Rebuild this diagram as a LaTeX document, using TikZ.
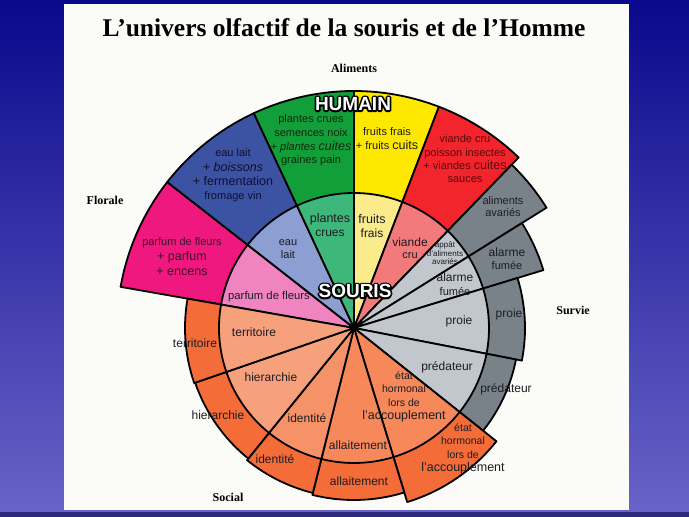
\documentclass[tikz,border=0pt]{standalone}
\usepackage{fontspec}
\setmainfont{Liberation Serif}
\setsansfont{Liberation Sans}
\usetikzlibrary{calc}
\definecolor{bgtop}{RGB}{10,8,140}
\definecolor{bgbot}{RGB}{105,100,200}
\definecolor{bgstrip}{RGB}{45,42,125}
\definecolor{slide}{RGB}{251,251,248}
\definecolor{magentaD}{RGB}{238,24,126}
\definecolor{pinkL}{RGB}{240,132,192}
\definecolor{blueD}{RGB}{60,82,163}
\definecolor{blueL}{RGB}{140,158,210}
\definecolor{greenD}{RGB}{18,158,56}
\definecolor{greenL}{RGB}{62,184,122}
\definecolor{yellowD}{RGB}{255,232,0}
\definecolor{yellowL}{RGB}{251,235,138}
\definecolor{redD}{RGB}{242,36,44}
\definecolor{redL}{RGB}{242,122,122}
\definecolor{greyD}{RGB}{122,130,137}
\definecolor{greyL}{RGB}{194,199,205}
\definecolor{orangeD}{RGB}{244,108,56}
\definecolor{orangeL}{RGB}{246,136,90}
\definecolor{orangeM}{RGB}{246,146,104}
\definecolor{orangeS}{RGB}{247,160,124}
\definecolor{txt}{RGB}{28,28,36}
\definecolor{txtred}{RGB}{90,10,10}
\definecolor{txtmag}{RGB}{64,16,42}
\tikzset{
  sector/.style={draw=black, line width=1.8pt, line join=round},
  lbl/.style={font=\sffamily\fontsize{12}{14}\selectfont, text=txt, inner sep=0pt, align=center},
  lbls/.style={font=\sffamily\fontsize{11}{13.5}\selectfont, text=txt, inner sep=0pt, align=center},
  cat/.style={font=\bfseries\fontsize{12}{14}\selectfont, text=black, inner sep=0pt},
  bigw/.style={font=\sffamily\bfseries\fontsize{19}{20}\selectfont, inner sep=0pt, text=white},
}
\newcommand\sect[4]{\filldraw[sector, fill=#1] (O) -- ++(#2:#4) arc[start angle=#2, end angle=#3, radius=#4] -- cycle;}
\newcommand\bg[1]{{\fontsize{12.5}{14}\selectfont #1}}
\newcommand\outlined[1]{\rlap{\special{pdf:literal direct 1 Tr 3.4 w 1 j 0 0 0 RG}#1\special{pdf:literal direct 0 Tr}}#1}
\begin{document}
\begin{tikzpicture}[x=1pt,y=1pt]
\useasboundingbox (0,0) rectangle (689,517);
\shade[top color=bgtop, bottom color=bgbot] (0,0) rectangle (689,517);
\fill[bgstrip] (0,0) rectangle (689,5);
\fill[slide] (64,7) rectangle (629,513);
\coordinate (O) at (354,189);
% outer ring
\sect{magentaD}{142}{170}{237}
\sect{blueD}{115}{142}{237}
\sect{greenD}{90}{115}{237}
\sect{yellowD}{69}{90}{237}
\sect{redD}{46}{69}{237}
\sect{greyD}{32}{46}{227}
\sect{greyD}{17}{32}{198}
\sect{greyD}{-11}{17}{171}
\sect{greyD}{-38.5}{-11}{165}
\sect{orangeD}{-73}{-38.5}{182}
\sect{orangeD}{-104}{-73}{172}
\sect{orangeD}{-129}{-104}{170}
\sect{orangeD}{-161}{-129}{168}
\sect{orangeD}{-190}{-161}{169}
% inner ring
\sect{pinkL}{142}{170}{135}
\sect{blueL}{115}{142}{135}
\sect{greenL}{90}{115}{135}
\sect{yellowL}{69}{90}{135}
\sect{redL}{46}{69}{135}
\sect{greyL}{32}{46}{135}
\sect{greyL}{17}{32}{135}
\sect{greyL}{-11}{17}{135}
\sect{greyL}{-38.5}{-11}{135}
\sect{orangeL}{-73}{-38.5}{135}
\sect{orangeL}{-104}{-73}{135}
\sect{orangeM}{-129}{-104}{135}
\sect{orangeS}{-161}{-129}{135}
\sect{orangeS}{-190}{-161}{135}
\fill[black] (O) circle (3.5);
% title and categories
\node[font=\bfseries\fontsize{25.5}{28}\selectfont, inner sep=0pt] (title) at (344,489) {L’univers olfactif de la souris et de l’Homme};
\node[cat] (aliments) at (354,449) {Aliments};
\node[cat] (florale) at (105,317) {Florale};
\node[cat] (survie) at (573,207) {Survie};
\node[cat] (social) at (228,20) {Social};
% outer labels
\node[lbls, text=txtmag, font=\sffamily\fontsize{11}{15}\selectfont] (o1) at (182,260) {parfum de fleurs\\\bg{+ parfum}\\\bg{+ encens}};
\node[lbls, font=\sffamily\fontsize{11}{14.3}\selectfont, text={rgb,255:red,16;green,16;blue,48}] (o2) at (233,341.5) {eau lait\\\bg{\textit{+ boissons}}\\\bg{+ fermentation}\\fromage vin};
\node[lbls, font=\sffamily\fontsize{11}{13.7}\selectfont, text={rgb,255:red,16;green,40;blue,16}] (o3) at (311,376.5) {plantes crues\\semences noix\\\textit{+ plantes \bg{cuites}}\\graines pain};
\node[lbls, font=\sffamily\fontsize{11}{14}\selectfont] (o4) at (387,378) {fruits frais\\+ fruits \bg{cuits}};
\node[lbls, text=txtred, font=\sffamily\fontsize{11}{13.3}\selectfont] (o5) at (465,358) {viande cru\\poisson insectes\\+ viandes \bg{cuites}\\sauces};
\node[lbls, font=\sffamily\fontsize{11}{12}\selectfont] (o6) at (503,310) {aliments\\avariés};
\node[lbl, font=\sffamily\fontsize{12}{13}\selectfont] (o7) at (507,258.5) {alarme\\{\fontsize{11}{13}\selectfont fumée}};
\node[lbl] (o8) at (509,203) {proie};
\node[lbl] (o9) at (506,128) {prédateur};
\node[lbls, font=\sffamily\fontsize{10.5}{13.3}\selectfont] (o10) at (463,68) {état\\hormonal\\lors de\\\bg{l'accouplement}};
\node[lbl] (o11) at (359,36) {allaitement};
\node[lbl] (o12) at (275,58) {identité};
\node[lbl] (o13) at (218,102) {hierarchie};
\node[lbl] (o14) at (195,174) {territoire};
% inner labels
\node[lbls, font=\sffamily\fontsize{11.3}{13}\selectfont] (i1) at (269,220) {parfum de fleurs};
\node[lbls, font=\sffamily\fontsize{11}{13}\selectfont] (i2) at (288,267.5) {eau\\lait};
\node[lbl] (i3) at (330,292) {\bg{plantes}\\crues};
\node[lbl] (i4) at (372,291) {\bg{fruits}\\frais};
\node[lbl, font=\sffamily\fontsize{12}{12.5}\selectfont] (i5) at (410,269) {viande\\{\fontsize{11}{12.5}\selectfont cru}};
\node[lbls, font=\sffamily\fontsize{8}{8.5}\selectfont] (i6) at (445,263.5) {appât\\d'aliments\\avariés};
\node[lbl, font=\sffamily\fontsize{12}{14}\selectfont] (i7) at (455,233) {alarme\\{\fontsize{11}{14}\selectfont fumée}};
\node[lbl] (i8) at (459,196) {proie};
\node[lbl] (i9) at (447,150) {prédateur};
\node[lbls, font=\sffamily\fontsize{10.5}{13.3}\selectfont] (i10) at (404,120) {état\\hormonal\\lors de\\\bg{l'accouplement}};
\node[lbl] (i11) at (358,71.5) {allaitement};
\node[lbl] (i12) at (307,99) {identité};
\node[lbl] (i13) at (271,140) {hierarchie};
\node[lbl] (i14) at (254,185) {territoire};
% ring names
\node[bigw] (humain) at (353,413) {\outlined{HUMAIN}};
\node[bigw] (souris) at (355,226) {\outlined{SOURIS}};
\end{tikzpicture}
\end{document}
